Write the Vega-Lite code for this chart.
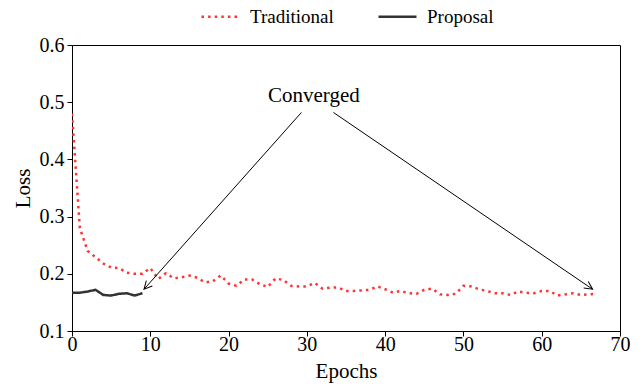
{
  "$schema": "https://vega.github.io/schema/vega-lite/v6.json",
  "width": 548,
  "height": 286,
  "autosize": {"type": "none"},
  "padding": {"left": 72, "top": 45, "right": 24, "bottom": 55},
  "background": "white",
  "config": {
    "view": {"stroke": "black", "strokeWidth": 1},
    "font": "Liberation Serif",
    "axis": {
      "labelFont": "Liberation Serif",
      "labelFontSize": 20,
      "labelColor": "black",
      "titleFont": "Liberation Serif",
      "titleFontSize": 21,
      "titleFontWeight": "normal",
      "titleColor": "black",
      "tickColor": "black",
      "domainColor": "black",
      "tickSize": 5,
      "grid": false,
      "labelFlush": false
    },
    "legend": {
      "labelFont": "Liberation Serif",
      "labelFontSize": 19,
      "labelColor": "black"
    }
  },
  "datasets": {
    "loss": [
      {"epoch": 0, "loss": 0.48, "method": "Traditional"},
      {"epoch": 1, "loss": 0.28, "method": "Traditional"},
      {"epoch": 2, "loss": 0.24, "method": "Traditional"},
      {"epoch": 3, "loss": 0.229, "method": "Traditional"},
      {"epoch": 4, "loss": 0.218, "method": "Traditional"},
      {"epoch": 5, "loss": 0.211, "method": "Traditional"},
      {"epoch": 6, "loss": 0.21, "method": "Traditional"},
      {"epoch": 7, "loss": 0.202, "method": "Traditional"},
      {"epoch": 8, "loss": 0.2, "method": "Traditional"},
      {"epoch": 9, "loss": 0.2, "method": "Traditional"},
      {"epoch": 10, "loss": 0.21, "method": "Traditional"},
      {"epoch": 11, "loss": 0.191, "method": "Traditional"},
      {"epoch": 12, "loss": 0.201, "method": "Traditional"},
      {"epoch": 13, "loss": 0.192, "method": "Traditional"},
      {"epoch": 14, "loss": 0.194, "method": "Traditional"},
      {"epoch": 15, "loss": 0.197, "method": "Traditional"},
      {"epoch": 16, "loss": 0.193, "method": "Traditional"},
      {"epoch": 17, "loss": 0.185, "method": "Traditional"},
      {"epoch": 18, "loss": 0.187, "method": "Traditional"},
      {"epoch": 19, "loss": 0.197, "method": "Traditional"},
      {"epoch": 20, "loss": 0.183, "method": "Traditional"},
      {"epoch": 21, "loss": 0.179, "method": "Traditional"},
      {"epoch": 22, "loss": 0.19, "method": "Traditional"},
      {"epoch": 23, "loss": 0.19, "method": "Traditional"},
      {"epoch": 24, "loss": 0.182, "method": "Traditional"},
      {"epoch": 25, "loss": 0.177, "method": "Traditional"},
      {"epoch": 26, "loss": 0.192, "method": "Traditional"},
      {"epoch": 27, "loss": 0.189, "method": "Traditional"},
      {"epoch": 28, "loss": 0.179, "method": "Traditional"},
      {"epoch": 29, "loss": 0.178, "method": "Traditional"},
      {"epoch": 30, "loss": 0.178, "method": "Traditional"},
      {"epoch": 31, "loss": 0.184, "method": "Traditional"},
      {"epoch": 32, "loss": 0.174, "method": "Traditional"},
      {"epoch": 33, "loss": 0.176, "method": "Traditional"},
      {"epoch": 34, "loss": 0.176, "method": "Traditional"},
      {"epoch": 35, "loss": 0.17, "method": "Traditional"},
      {"epoch": 36, "loss": 0.17, "method": "Traditional"},
      {"epoch": 37, "loss": 0.171, "method": "Traditional"},
      {"epoch": 38, "loss": 0.172, "method": "Traditional"},
      {"epoch": 39, "loss": 0.178, "method": "Traditional"},
      {"epoch": 40, "loss": 0.173, "method": "Traditional"},
      {"epoch": 41, "loss": 0.167, "method": "Traditional"},
      {"epoch": 42, "loss": 0.17, "method": "Traditional"},
      {"epoch": 43, "loss": 0.166, "method": "Traditional"},
      {"epoch": 44, "loss": 0.165, "method": "Traditional"},
      {"epoch": 45, "loss": 0.172, "method": "Traditional"},
      {"epoch": 46, "loss": 0.174, "method": "Traditional"},
      {"epoch": 47, "loss": 0.164, "method": "Traditional"},
      {"epoch": 48, "loss": 0.163, "method": "Traditional"},
      {"epoch": 49, "loss": 0.165, "method": "Traditional"},
      {"epoch": 50, "loss": 0.179, "method": "Traditional"},
      {"epoch": 51, "loss": 0.178, "method": "Traditional"},
      {"epoch": 52, "loss": 0.173, "method": "Traditional"},
      {"epoch": 53, "loss": 0.17, "method": "Traditional"},
      {"epoch": 54, "loss": 0.166, "method": "Traditional"},
      {"epoch": 55, "loss": 0.166, "method": "Traditional"},
      {"epoch": 56, "loss": 0.163, "method": "Traditional"},
      {"epoch": 57, "loss": 0.169, "method": "Traditional"},
      {"epoch": 58, "loss": 0.167, "method": "Traditional"},
      {"epoch": 59, "loss": 0.166, "method": "Traditional"},
      {"epoch": 60, "loss": 0.17, "method": "Traditional"},
      {"epoch": 61, "loss": 0.17, "method": "Traditional"},
      {"epoch": 62, "loss": 0.162, "method": "Traditional"},
      {"epoch": 63, "loss": 0.164, "method": "Traditional"},
      {"epoch": 64, "loss": 0.166, "method": "Traditional"},
      {"epoch": 65, "loss": 0.163, "method": "Traditional"},
      {"epoch": 66, "loss": 0.164, "method": "Traditional"},
      {"epoch": 67, "loss": 0.165, "method": "Traditional"},
      {"epoch": 0, "loss": 0.167, "method": "Proposal"},
      {"epoch": 1, "loss": 0.167, "method": "Proposal"},
      {"epoch": 2, "loss": 0.169, "method": "Proposal"},
      {"epoch": 3, "loss": 0.172, "method": "Proposal"},
      {"epoch": 4, "loss": 0.163, "method": "Proposal"},
      {"epoch": 5, "loss": 0.162, "method": "Proposal"},
      {"epoch": 6, "loss": 0.165, "method": "Proposal"},
      {"epoch": 7, "loss": 0.166, "method": "Proposal"},
      {"epoch": 8, "loss": 0.162, "method": "Proposal"},
      {"epoch": 9, "loss": 0.166, "method": "Proposal"}
    ],
    "arrows": [
      {"x": 29.3, "y": 0.482, "x2": 9.2, "y2": 0.173},
      {"x": 33.4, "y": 0.482, "x2": 66.5, "y2": 0.173}
    ]
  },
  "layer": [
    {
      "data": {"name": "loss"},
      "mark": {"type": "line", "strokeWidth": 2.5, "strokeCap": "butt", "clip": true},
      "encoding": {
        "x": {
          "field": "epoch", "type": "quantitative",
          "scale": {"domain": [0, 70], "nice": false, "zero": false},
          "axis": {"values": [0, 10, 20, 30, 40, 50, 60, 70], "title": "Epochs", "labelFont": "Liberation Serif", "labelPadding": -2, "titlePadding": 6}
        },
        "y": {
          "field": "loss", "type": "quantitative",
          "scale": {"domain": [0.1, 0.6], "nice": false, "zero": false},
          "axis": {"values": [0.1, 0.2, 0.3, 0.4, 0.5, 0.6], "format": ".1f", "title": "Loss", "labelFont": "Liberation Serif", "labelPadding": 3, "titlePadding": 6}
        },
        "color": {
          "field": "method", "type": "nominal",
          "scale": {"domain": ["Traditional", "Proposal"], "range": ["#ff3333", "#333333"]},
          "legend": {
            "title": null, "orient": "none", "direction": "horizontal",
            "legendX": 128, "legendY": -49,
            "symbolType": "stroke", "symbolSize": 1444, "symbolStrokeWidth": 2.5,
            "labelOffset": 9, "columnPadding": 39
          }
        },
        "strokeDash": {
          "field": "method", "type": "nominal",
          "scale": {"domain": ["Traditional", "Proposal"], "range": [[2.5, 4.1], [1, 0]]},
          "legend": {
            "title": null, "orient": "none", "direction": "horizontal",
            "legendX": 128, "legendY": -49,
            "symbolType": "stroke", "symbolSize": 1444, "symbolStrokeWidth": 2.5,
            "labelOffset": 9, "columnPadding": 39
          }
        }
      }
    },
    {
      "data": {"name": "arrows"},
      "mark": {"type": "rule", "color": "black", "strokeWidth": 1},
      "encoding": {
        "x": {"field": "x", "type": "quantitative"},
        "y": {"field": "y", "type": "quantitative"},
        "x2": {"field": "x2"},
        "y2": {"field": "y2"}
      }
    },
    {
      "data": {"values": [{"x": 9.2, "y": 0.173}]},
      "mark": {"type": "point", "shape": "M -0.5 1 L 0 0 L 0.5 1", "angle": 221.6, "size": 256, "filled": false, "stroke": "black", "strokeWidth": 1, "opacity": 1},
      "encoding": {
        "x": {"field": "x", "type": "quantitative"},
        "y": {"field": "y", "type": "quantitative"}
      }
    },
    {
      "data": {"values": [{"x": 66.5, "y": 0.173}]},
      "mark": {"type": "point", "shape": "M -0.5 1 L 0 0 L 0.5 1", "angle": 124.3, "size": 256, "filled": false, "stroke": "black", "strokeWidth": 1, "opacity": 1},
      "encoding": {
        "x": {"field": "x", "type": "quantitative"},
        "y": {"field": "y", "type": "quantitative"}
      }
    },
    {
      "data": {"values": [{"x": 30.9, "y": 0.5, "label": "Converged"}]},
      "mark": {"type": "text", "font": "Liberation Serif", "fontSize": 21, "color": "black", "align": "center", "baseline": "alphabetic"},
      "encoding": {
        "x": {"field": "x", "type": "quantitative"},
        "y": {"field": "y", "type": "quantitative"},
        "text": {"field": "label"}
      }
    }
  ]
}
